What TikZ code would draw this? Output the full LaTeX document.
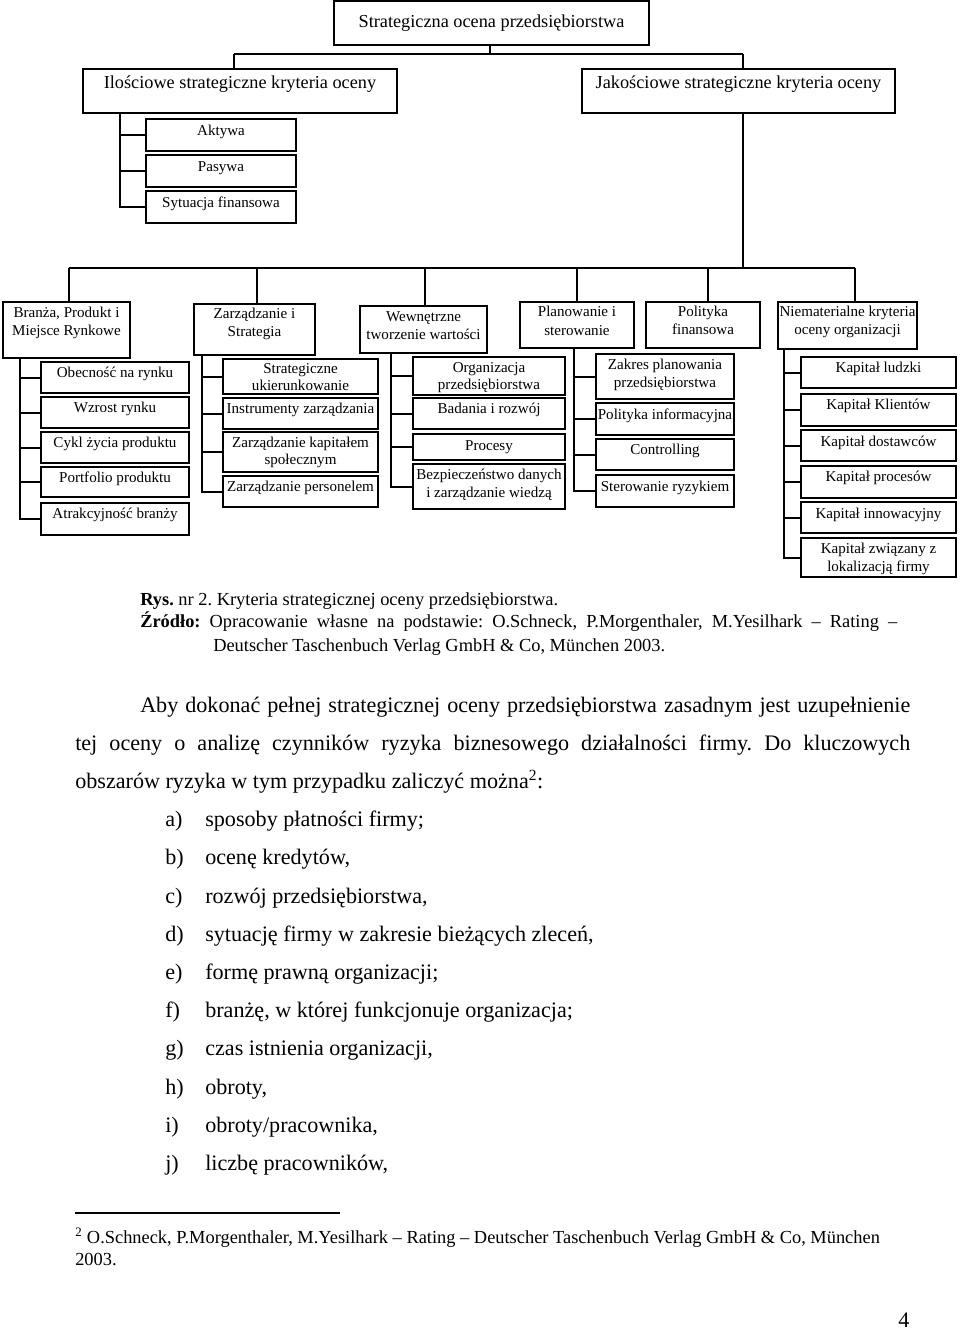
\documentclass[tikz,border=0pt]{standalone}
\usepackage{fontspec}
\setmainfont{Liberation Serif}
\newcommand\bx[5]{\node[bx, minimum width={(#4-#2)*0.75pt}, minimum height={(#5-#3)*0.75pt}] (#1) at ({(#2+#4)/2},{(#3+#5)/2}) {};}
\newcommand\tx[5]{\node[txt,#2] (#1) at (#3,#4) {#5};}
\newcommand\jl[2]{\hbox to #1{\frenchspacing\spaceskip=0.25em plus 1fil\relax\xspaceskip=\spaceskip #2}}
\frenchspacing
\begin{document}
\begin{tikzpicture}[x=0.75pt,y=-0.75pt,
  bx/.style={draw, line width=1.6pt, inner sep=0pt, rectangle},
  ln/.style={line width=1.5pt},
  txt/.style={anchor=base, inner sep=0pt},
  fs/.style={font=\fontsize{11.3}{13.5}\selectfont},
  fb/.style={font=\fontsize{13.7}{16}\selectfont},
  fc/.style={font=\fontsize{13.8}{16}\selectfont},
  fbody/.style={font=\fontsize{16.6}{20}\selectfont}]
\useasboundingbox[fill=white] (0,0) rectangle (960,1332);
% ---- top levels
\bx{top}{334}{1}{649}{45}
\tx{topt}{fb}{491.5}{27}{Strategiczna ocena przedsiębiorstwa}
\bx{ilo}{83}{69}{397}{113}
\tx{ilot}{fb}{240}{88}{Ilościowe strategiczne kryteria oceny}
\bx{jak}{582}{69}{895}{113}
\tx{jakt}{fb}{738.5}{88}{Jakościowe strategiczne kryteria oceny}
\bx{akt}{146}{119}{296}{151}
\tx{aktt}{fs}{221}{135.5}{Aktywa}
\bx{pas}{146}{155}{296}{187}
\tx{past}{fs}{221}{171.5}{Pasywa}
\bx{syt}{146}{191}{296}{223}
\tx{sytt}{fs}{221}{207.5}{Sytuacja finansowa}
% ---- second level
\bx{b1}{3}{302}{130}{358}
\tx{b1t}{fs}{66.5}{317.5}{Branża, Produkt i}
\tx{b1u}{fs}{66.5}{335.5}{Miejsce Rynkowe}
\bx{b2}{194}{304}{315}{355}
\tx{b2t}{fs}{254.5}{318.5}{Zarządzanie i}
\tx{b2u}{fs}{254.5}{336.5}{Strategia}
\bx{b3}{360}{306}{487}{353}
\tx{b3t}{fs}{423.5}{321.5}{Wewnętrzne}
\tx{b3u}{fs}{423.5}{339.5}{tworzenie wartości}
\bx{b4}{520}{302}{634}{348}
\tx{b4t}{fs}{577}{316.5}{Planowanie i}
\tx{b4u}{fs}{577}{335}{sterowanie}
\bx{b5}{646}{302}{760}{348}
\tx{b5t}{fs}{703}{316.5}{Polityka}
\tx{b5u}{fs}{703}{334.5}{finansowa}
\bx{b6}{778}{302}{917}{349}
\tx{b6t}{fs}{847.5}{316.5}{Niematerialne kryteria}
\tx{b6u}{fs}{847.5}{334.5}{oceny organizacji}
% ---- column A
\bx{a1}{41}{362}{189}{393}
\tx{a1t}{fs}{115}{377.5}{Obecność na rynku}
\bx{a2}{41}{397}{189}{428}
\tx{a2t}{fs}{115}{412.5}{Wzrost rynku}
\bx{a3}{41}{432}{189}{463}
\tx{a3t}{fs}{115}{447.5}{Cykl życia produktu}
\bx{a4}{41}{467}{189}{497}
\tx{a4t}{fs}{115}{482.5}{Portfolio produktu}
\bx{a5}{41}{503}{189}{535}
\tx{a5t}{fs}{115}{518.5}{Atrakcyjność branży}
% ---- column B
\bx{z1}{223}{359}{378}{394}
\tx{z1t}{fs}{300.5}{373.5}{Strategiczne}
\tx{z1u}{fs}{300.5}{390.5}{ukierunkowanie}
\bx{z2}{223}{398}{378}{429}
\tx{z2t}{fs}{300.5}{413.5}{Instrumenty zarządzania}
\bx{z3}{223}{432}{378}{472}
\tx{z3t}{fs}{300.5}{447.5}{Zarządzanie kapitałem}
\tx{z3u}{fs}{300.5}{464.5}{społecznym}
\bx{z4}{223}{476}{378}{507}
\tx{z4t}{fs}{300.5}{491.5}{Zarządzanie personelem}
% ---- column C
\bx{w1}{413}{357}{565}{395}
\tx{w1t}{fs}{489}{372.5}{Organizacja}
\tx{w1u}{fs}{489}{389.5}{przedsiębiorstwa}
\bx{w2}{413}{398}{565}{429}
\tx{w2t}{fs}{489}{413.5}{Badania i rozwój}
\bx{w3}{413}{434}{565}{460}
\tx{w3t}{fs}{489}{450.5}{Procesy}
\bx{w4}{413}{464}{565}{509}
\tx{w4t}{fs}{489}{479.5}{Bezpieczeństwo danych}
\tx{w4u}{fs}{489}{497.5}{i zarządzanie wiedzą}
% ---- column D
\bx{p1}{596}{354}{734}{399}
\tx{p1t}{fs}{665}{369.5}{Zakres planowania}
\tx{p1u}{fs}{665}{387.5}{przedsiębiorstwa}
\bx{p2}{596}{403}{734}{435}
\tx{p2t}{fs}{665}{419.5}{Polityka informacyjna}
\bx{p3}{596}{439}{734}{470}
\tx{p3t}{fs}{665}{454.5}{Controlling}
\bx{p4}{596}{475}{734}{507}
\tx{p4t}{fs}{665}{491.5}{Sterowanie ryzykiem}
% ---- column F
\bx{k1}{801}{357}{956}{388}
\tx{k1t}{fs}{878.5}{372.5}{Kapitał ludzki}
\bx{k2}{801}{394}{956}{426}
\tx{k2t}{fs}{878.5}{409.5}{Kapitał Klientów}
\bx{k3}{801}{430}{956}{461}
\tx{k3t}{fs}{878.5}{446.5}{Kapitał dostawców}
\bx{k4}{801}{466}{956}{498}
\tx{k4t}{fs}{878.5}{481.5}{Kapitał procesów}
\bx{k5}{801}{502}{956}{533}
\tx{k5t}{fs}{878.5}{518.5}{Kapitał innowacyjny}
\bx{k6}{801}{538}{956}{577}
\tx{k6t}{fs}{878.5}{553.5}{Kapitał związany z}
\tx{k6u}{fs}{878.5}{571.5}{lokalizacją firmy}
% ---- connectors
\coordinate (c0) at (490,54);
\coordinate (c1) at (234,54);
\coordinate (c2) at (743,54);
\draw[ln] (top.south -| c0) -- (c0);
\draw[ln] (c1) -- (c2);
\draw[ln] (c1) -- (ilo.north -| c1);
\draw[ln] (c2) -- (jak.north -| c2);
\coordinate (ti) at (120,0);
\foreach \n in {akt,pas,syt} \draw[ln] (ilo.south -| ti) |- (\n.west);
\coordinate (hb) at (743,268);
\draw[ln] (jak.south -| hb) -- (hb);
\coordinate (d1) at (69,268);
\coordinate (d2) at (257,268);
\coordinate (d3) at (425,268);
\coordinate (d4) at (577,268);
\coordinate (d5) at (708,268);
\coordinate (d6) at (855,268);
\draw[ln] (d1) -- (d6);
\foreach \i in {1,...,6} \draw[ln] (d\i) -- (b\i.north -| d\i);
\coordinate (tA) at (20,0);
\coordinate (tB) at (202,0);
\coordinate (tC) at (391,0);
\coordinate (tD) at (574,0);
\coordinate (tF) at (784,0);
\foreach \n in {a1,a2,a3,a4,a5} \draw[ln] (b1.south -| tA) |- (\n.west);
\foreach \n in {z1,z2,z3,z4} \draw[ln] (b2.south -| tB) |- (\n.west);
\foreach \n in {w1,w2,w3,w4} \draw[ln] (b3.south -| tC) |- (\n.west);
\foreach \n in {p1,p2,p3,p4} \draw[ln] (b4.south -| tD) |- (\n.west);
\foreach \n in {k1,k2,k3,k4,k5,k6} \draw[ln] (b6.south -| tF) |- (\n.west);
% ---- caption
\node[txt,fc,anchor=base west] (cap1) at (140,605.5) {\textbf{Rys.} nr 2. Kryteria strategicznej oceny przedsiębiorstwa.};
\node[txt,fc,anchor=base west] (cap2) at (140,627) {\jl{567.75pt}{\textbf{Źródło:} Opracowanie własne na podstawie: O.Schneck, P.Morgenthaler, M.Yesilhark – Rating –}};
\node[txt,fc,anchor=base west] (cap3) at (213,651) {Deutscher Taschenbuch Verlag GmbH \& Co, München 2003.};
% ---- body
\node[txt,fbody,anchor=base west] (l1) at (140,712.7) {\jl{577.5pt}{Aby dokonać pełnej strategicznej oceny przedsiębiorstwa zasadnym jest uzupełnienie}};
\node[txt,fbody,anchor=base west] (l2) at (75,750.7) {\jl{626.25pt}{tej oceny o analizę czynników ryzyka biznesowego działalności firmy. Do kluczowych}};
\node[txt,fbody,anchor=base west] (l3) at (75,788.7) {obszarów ryzyka w tym przypadku zaliczyć można\textsuperscript{2}:};
\foreach \lab/\t [count=\k from 0] in {a)/{sposoby płatności firmy;},
  b)/{ocenę kredytów,},
  c)/{rozwój przedsiębiorstwa,},
  d)/{sytuację firmy w zakresie bieżących zleceń,},
  e)/{formę prawną organizacji;},
  f)/{branżę, w której funkcjonuje organizacja;},
  g)/{czas istnienia organizacji,},
  h)/{obroty,},
  i)/{obroty/pracownika,},
  j)/{liczbę pracowników,}} {
  \node[txt,fbody,anchor=base west] (lab\k) at (165,{826.7+38.2*\k}) {\lab};
  \node[txt,fbody,anchor=base west] (it\k) at (205,{826.7+38.2*\k}) {\t};
}
% ---- footnote
\coordinate (fr1) at (75,1213);
\coordinate (fr2) at (340,1213);
\draw[line width=0.8pt] (fr1) -- (fr2);
\node[txt,fc,anchor=base west] (fn1) at (75,1243.5) {\textsuperscript{2} O.Schneck, P.Morgenthaler, M.Yesilhark – Rating – Deutscher Taschenbuch Verlag GmbH \& Co, München};
\node[txt,fc,anchor=base west] (fn2) at (75,1265.5) {2003.};
\node[txt,fbody,anchor=base west] (pg) at (898,1327) {4};
\end{tikzpicture}
\end{document}
